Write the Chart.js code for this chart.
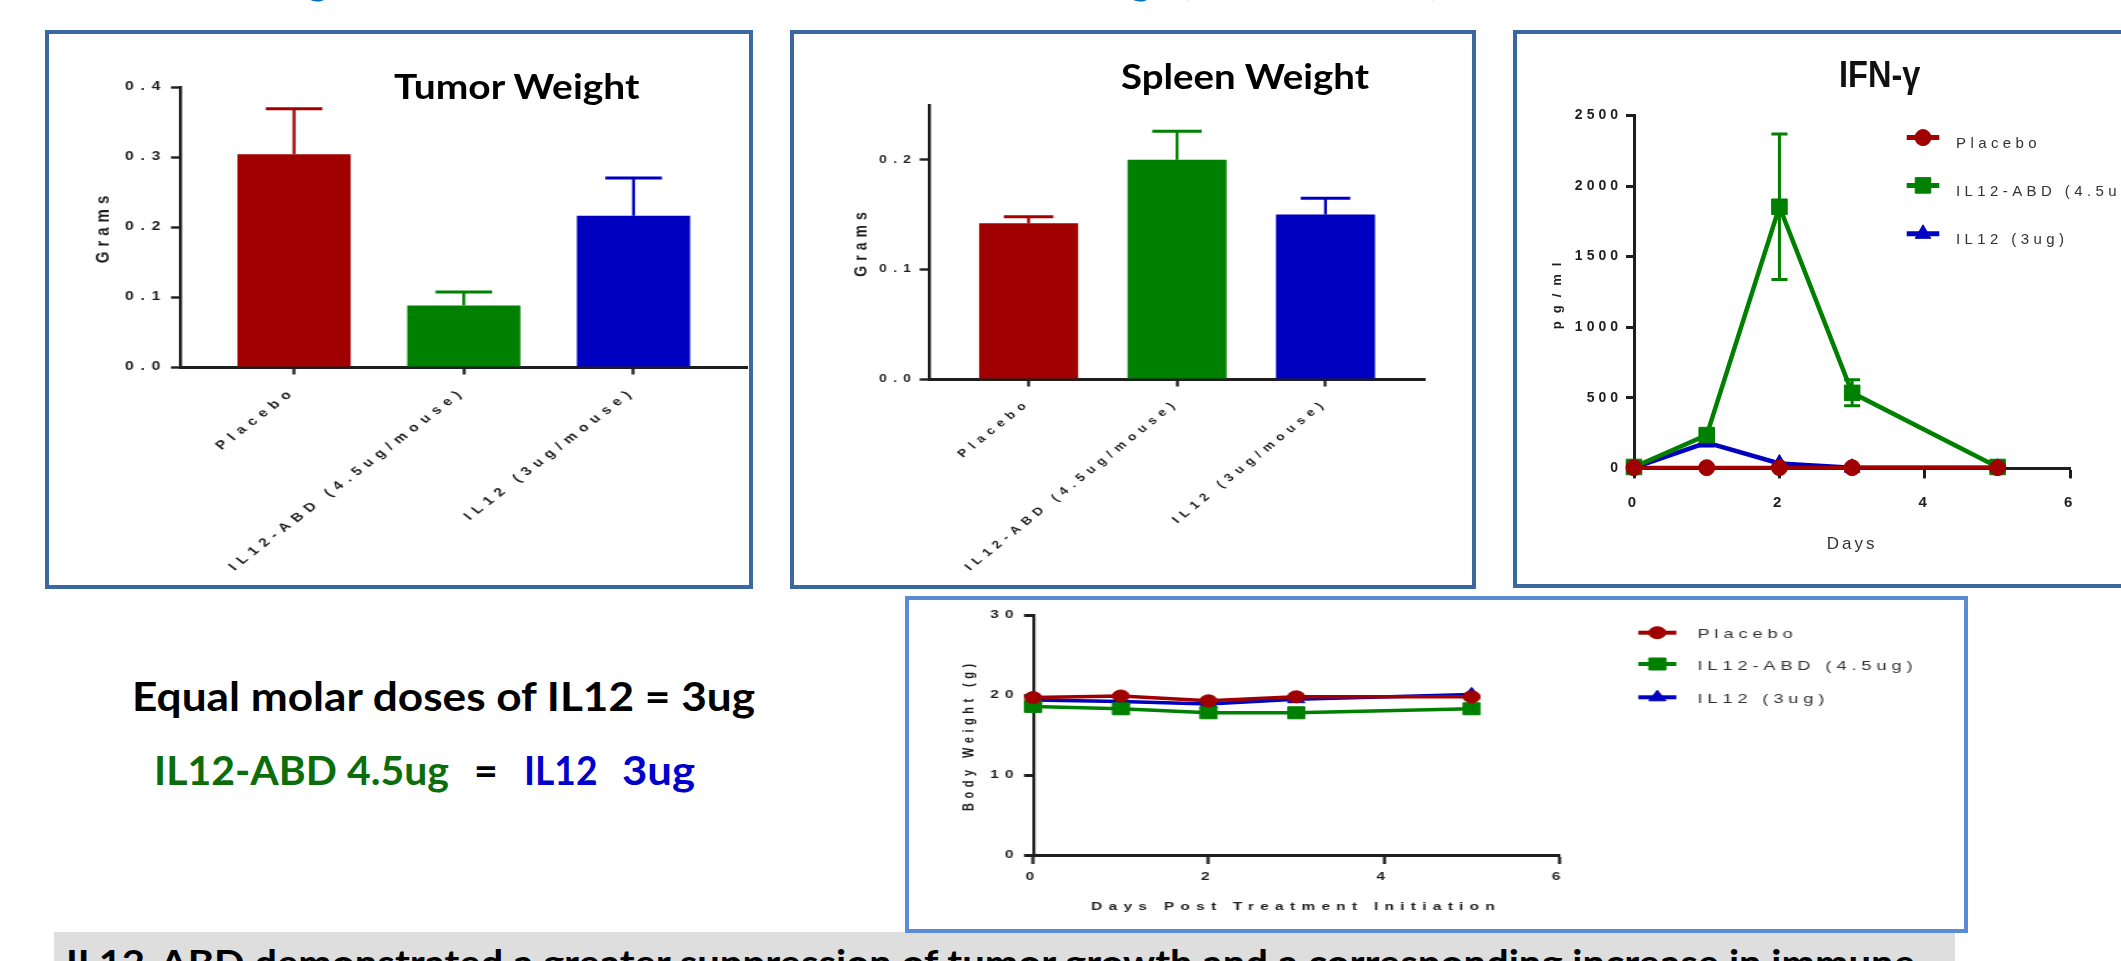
<!DOCTYPE html>
<html lang="en">
<head>
<meta charset="utf-8">
<title>IL12-ABD study panels</title>
<script src="https://cdn.jsdelivr.net/npm/chart.js@4.4.1/dist/chart.umd.min.js"></script>
<style>
  html, body { margin: 0; padding: 0; background: #fff; }
  body { position: relative; width: 2121px; height: 961px; overflow: hidden; }
  .panel { position: absolute; box-sizing: border-box; border: 4px solid #3c68a0; background: #fff; }
  .panel.light { border-color: #5b8bd2; }
  canvas { position: absolute; }
  .t { position: absolute; white-space: pre; line-height: 1; transform-origin: 0 0;
       font-family: Lato, 'Open Sans', sans-serif; font-weight: 700; color: #000; }
</style>
</head>
<body>

<!-- heading line running off the top edge -->
<div class="t" style="left:307px;top:-41px;font-size:40px;color:#0070c0">g</div>
<div class="t" style="left:1130px;top:-41px;font-size:40px;color:#0070c0">g</div>
<div class="t" style="left:1180px;top:-41px;font-size:40px;color:#0070c0">(</div>
<div class="t" style="left:1429px;top:-41px;font-size:40px;color:#0070c0">)</div>

<!-- conclusion banner -->
<div style="position:absolute;left:54px;top:932px;width:1901px;height:40px;background:#dedede"></div>
<div class="t" data-w="1849" style="left:66px;top:944px;font-size:36px">IL12-ABD demonstrated a greater suppression of tumor growth and a corresponding increase in immune</div>

<!-- framed panels -->
<div class="panel" style="left:45px;top:30px;width:708px;height:559px"></div>
<div class="panel" style="left:790px;top:30px;width:686px;height:559px"></div>
<div class="panel" style="left:1513px;top:30px;width:700px;height:558px"></div>
<div class="panel light" style="left:905px;top:596px;width:1063px;height:337px"></div>

<canvas id="tumor" width="538" height="551" style="left:49px;top:34px;width:699.4px;height:551px"></canvas>
<canvas id="spleen" width="542" height="551" style="left:794px;top:34px;width:677.5px;height:551px"></canvas>
<canvas id="ifn" width="604" height="550" style="left:1517px;top:34px;width:604px;height:550px"></canvas>
<canvas id="bw" width="754" height="329" style="left:909px;top:600px;width:1055.6px;height:329px"></canvas>

<!-- panel headings -->
<div class="t" data-w="245.5" style="left:393.5px;top:69.3px;font-size:34px">Tumor Weight</div>
<div class="t" data-w="248" style="left:1120.6px;top:59.4px;font-size:34px">Spleen Weight</div>
<div class="t" data-w="81.3" style="left:1838.6px;top:56.4px;font-size:37px;font-family:'Liberation Sans',Arial,sans-serif;color:#111">IFN-γ</div>

<!-- dose note -->
<div class="t" data-w="623" style="left:132px;top:675.5px;font-size:40px">Equal molar doses of IL12 = 3ug</div>
<div class="t" data-w="295" style="left:154px;top:748.6px;font-size:41px;color:#0b6e0b">IL12-ABD 4.5ug</div>
<div class="t" style="left:474px;top:748.6px;font-size:41px">=</div>
<div class="t" data-w="73.5" style="left:523.5px;top:748.6px;font-size:41px;color:#0000cc">IL12</div>
<div class="t" data-w="73" style="left:621.7px;top:748.6px;font-size:41px;color:#0000cc">3ug</div>

<script>
// ---------- data ----------
const CATEGORIES = ['Placebo', 'IL12-ABD (4.5ug/mouse)', 'IL12 (3ug/mouse)'];
const SERIES = ['Placebo', 'IL12-ABD (4.5ug)', 'IL12 (3ug)'];

const tumorMean = [0.304, 0.088, 0.216];
const tumorSem  = [0.065, 0.019, 0.054];
const tumorTicks = [0, 0.1, 0.2, 0.3, 0.4];

const spleenMean = [0.142, 0.200, 0.150];
const spleenSem  = [0.006, 0.026, 0.015];
const spleenTicks = [0, 0.1, 0.2];

const ifnDays    = [0, 1, 2, 3, 5];
const ifnPlacebo = [5, 5, 5, 5, 5];
const ifnAbd     = [10, 236, 1853, 535, 10];
const ifnAbdSem  = [0, 0, 515, 92, 0];
const ifnIl12    = [5, 183, 35, 5, 5];
const ifnTicks   = [0, 500, 1000, 1500, 2000, 2500];
const dayTicks   = [0, 2, 4, 6];

const bwDays    = [0, 1, 2, 3, 5];
const bwPlacebo = [19.7, 19.9, 19.3, 19.8, 19.8];
const bwAbd     = [18.6, 18.3, 17.8, 17.8, 18.3];
const bwIl12    = [19.4, 19.2, 18.9, 19.5, 20.1];
const bwTicks   = [0, 10, 20, 30];

// ---------- styling ----------
const RED = '#a00000', GREEN = '#008000', BLUE = '#0000c0';
const BAR_COLORS = [RED, GREEN, BLUE];
const INK = '#1e1e1e';
const FAMILY = "'Liberation Sans', Arial, sans-serif";
Chart.defaults.font.family = FAMILY;
Chart.defaults.color = INK;

// letter spacing per canvas, keyed by font pixel size
const SPACING = {
  tumor:  { def: 5, 12: 5.2 },
  spleen: { def: 5 },
  ifn:    { def: 4, 13: 8, 14: 4, 15: 4.4, 17: 3 },
  bw:     { def: 4.5, 13: 3.5 }
};

const letterSpacing = {
  id: 'letterSpacing',
  beforeInit(chart) {
    const ctx = chart.ctx;
    const map = SPACING[chart.canvas.id] || { def: 0 };
    const pick = () => {
      const m = /(\d+(?:\.\d+)?)px/.exec(ctx.font);
      const v = m && map[m[1]] !== undefined ? map[m[1]] : map.def;
      ctx.letterSpacing = v + 'px';
    };
    const fill = ctx.fillText, measure = ctx.measureText;
    ctx.fillText = function (...a) { pick(); return fill.apply(this, a); };
    ctx.measureText = function (...a) { pick(); return measure.apply(this, a); };
  }
};

// SEM whiskers: upward only for bars, both ways when opts.both
const errorBars = {
  id: 'errorBars',
  afterDatasetsDraw(chart, args, o) {
    const ctx = chart.ctx, ys = chart.scales.y;
    chart.data.datasets.forEach((ds, di) => {
      if (!ds.errors) return;
      const meta = chart.getDatasetMeta(di);
      meta.data.forEach((el, i) => {
        const e = ds.errors[i];
        if (!e) return;
        const v = ds.data[i].y;
        const color = Array.isArray(ds.backgroundColor) ? ds.backgroundColor[i] : ds.borderColor;
        const half = o.capHalf != null ? o.capHalf : el.width / 4;
        const top = ys.getPixelForValue(v + e);
        const bottom = o.both ? ys.getPixelForValue(v - e) : el.y;
        ctx.save();
        ctx.strokeStyle = color;
        ctx.lineWidth = o.stem;
        ctx.beginPath(); ctx.moveTo(el.x, bottom); ctx.lineTo(el.x, top); ctx.stroke();
        ctx.lineWidth = o.cap;
        ctx.beginPath();
        ctx.moveTo(el.x - half, top); ctx.lineTo(el.x + half, top);
        if (o.both) { ctx.moveTo(el.x - half, bottom); ctx.lineTo(el.x + half, bottom); }
        ctx.stroke();
        ctx.restore();
      });
    });
  }
};

// legend placed inside the plot, line sample with marker
const insetLegend = {
  id: 'insetLegend',
  afterDraw(chart, args, o) {
    if (!o || !o.rows) return;
    const ctx = chart.ctx;
    chart.data.datasets.forEach((ds, i) => {
      const y = o.rows[i];
      ctx.save();
      ctx.strokeStyle = ds.borderColor;
      ctx.fillStyle = ds.borderColor;
      ctx.lineWidth = o.lineWidth;
      ctx.beginPath(); ctx.moveTo(o.x0, y); ctx.lineTo(o.x1, y); ctx.stroke();
      ctx.lineWidth = 1;
      Chart.helpers.drawPoint(ctx, { pointStyle: ds.pointStyle, radius: ds.pointRadius, rotation: 0, borderWidth: 1 }, (o.x0 + o.x1) / 2, y);
      ctx.font = o.textFont;
      ctx.fillStyle = o.color;
      ctx.textAlign = 'left';
      ctx.textBaseline = 'middle';
      ctx.fillText(ds.label, o.x, y + o.dy);
      ctx.restore();
    });
  }
};

const fixedTicks = list => s => { s.ticks = list.map(v => ({ value: v })); };
const pts = (xs, ys) => xs.map((x, i) => ({ x, y: ys[i] }));

function barChart(id, means, sems, ticks, yMax, L) {
  return new Chart(document.getElementById(id), {
    type: 'bar',
    data: {
      datasets: [{
        data: pts(means.map((_, i) => i), means),
        backgroundColor: BAR_COLORS,
        borderWidth: 0,
        barPercentage: 0.667,
        categoryPercentage: 1,
        errors: sems
      }]
    },
    options: {
      responsive: false, animation: false, devicePixelRatio: 1,
      layout: { padding: { left: 0, right: L.right, top: L.top, bottom: 0 } },
      plugins: { legend: { display: false }, tooltip: { enabled: false },
                 errorBars: { stem: 2.3, cap: 3 } },
      scales: {
        x: {
          type: 'linear', min: -2 / 3, max: 8 / 3, bounds: 'data', offset: false,
          afterBuildTicks: fixedTicks(CATEGORIES.map((_, i) => i)),
          afterFit: s => { s.height = L.xh; },
          border: { display: true, color: INK, width: 3 },
          grid: { drawOnChartArea: false, tickLength: 7.5, tickWidth: 2.3, tickColor: INK, offset: false },
          ticks: { autoSkip: false, minRotation: 45, maxRotation: 45, padding: 10, color: INK,
                   font: { size: L.fs, weight: 'bold' }, callback: v => CATEGORIES[v] }
        },
        y: {
          type: 'linear', min: 0, max: yMax, bounds: 'data',
          afterBuildTicks: fixedTicks(ticks),
          afterFit: s => { s.width = L.yw; },
          border: { display: true, color: INK, width: 2.4 },
          grid: { drawOnChartArea: false, tickLength: L.ytl, tickWidth: 2.4, tickColor: INK },
          ticks: { padding: L.yp, color: INK, font: { size: L.fs, weight: 'bold' }, callback: v => v.toFixed(1) },
          title: { display: true, text: 'Grams', color: INK, font: { size: L.tfs, weight: 'bold' },
                   padding: { top: L.tp, bottom: 0 } }
        }
      }
    },
    plugins: [letterSpacing, errorBars]
  });
}

barChart('tumor', tumorMean, tumorSem, tumorTicks, 0.4,
  { right: 1, top: 53, xh: 218, yw: 101.5, yp: 3, ytl: 7.7, tp: 32.5, fs: 12, tfs: 15 });
barChart('spleen', spleenMean, spleenSem, spleenTicks, 0.25,
  { right: 38, top: 71, xh: 206, yw: 108.4, yp: 2.1, ytl: 8, tp: 45.6, fs: 11, tfs: 14 });

function lineSet(label, xs, ys, color, style, radius, width, extra) {
  return Object.assign({
    label, data: pts(xs, ys), borderColor: color, backgroundColor: color,
    pointBackgroundColor: color, pointBorderColor: color, pointBorderWidth: 1,
    pointStyle: style, pointRadius: radius, borderWidth: width, tension: 0, fill: false, clip: false
  }, extra || {});
}

function lineChart(id, datasets, cfg) {
  return new Chart(document.getElementById(id), {
    type: 'line',
    data: { datasets },
    options: {
      responsive: false, animation: false, devicePixelRatio: 1,
      layout: { padding: { left: 0, right: cfg.right, top: cfg.top, bottom: 0 } },
      plugins: { legend: { display: false }, tooltip: { enabled: false },
                 errorBars: { both: true, stem: 3, cap: 3, capHalf: 8 },
                 insetLegend: cfg.legend },
      scales: {
        x: {
          type: 'linear', min: 0, max: 6, bounds: 'data',
          afterBuildTicks: fixedTicks(dayTicks),
          afterFit: s => { s.height = cfg.xh; },
          border: { display: true, color: INK, width: 3 },
          grid: { drawOnChartArea: false, tickLength: cfg.xtl, tickWidth: cfg.xtw, tickColor: INK },
          ticks: { padding: cfg.xp, color: INK, font: { size: cfg.xfs, weight: 'bold' }, callback: v => String(v) },
          title: { display: true, text: cfg.xTitle, color: cfg.xTitleColor,
                   font: { size: cfg.xTitleSize, weight: cfg.xTitleWeight },
                   padding: { top: 0, bottom: cfg.xTitlePad } }
        },
        y: {
          type: 'linear', min: 0, max: cfg.yMax, bounds: 'data',
          afterBuildTicks: fixedTicks(cfg.yTicks),
          afterFit: s => { s.width = cfg.yw; },
          border: { display: true, color: INK, width: cfg.ybw },
          grid: { drawOnChartArea: false, tickLength: cfg.ytl, tickWidth: 3, tickColor: INK },
          ticks: { padding: cfg.yp, color: INK, font: { size: cfg.yfs, weight: 'bold' }, callback: v => String(v) },
          title: { display: true, text: cfg.yTitle, color: INK, font: { size: cfg.yTitleSize, weight: 'bold' },
                   padding: { top: cfg.yTitlePad, bottom: 0 } }
        }
      }
    },
    plugins: [letterSpacing, errorBars, insetLegend]
  });
}

lineChart('ifn', [
  lineSet(SERIES[0], ifnDays, ifnPlacebo, RED, 'circle', 8, 4),
  lineSet(SERIES[1], ifnDays, ifnAbd, GREEN, 'rect', 11, 4.5, { errors: ifnAbdSem }),
  lineSet(SERIES[2], ifnDays, ifnIl12, BLUE, 'triangle', 9, 4.5)
], {
  right: 50.7, top: 81.4, xh: 115.6, yw: 117, yMax: 2500, yTicks: ifnTicks,
  xtl: 10, xtw: 3, xp: 15.4, xfs: 15, xTitle: 'Days', xTitleSize: 17, xTitleWeight: 'normal',
  xTitleColor: '#333', xTitlePad: 29.8,
  ytl: 8, ybw: 3, yp: 4, yfs: 14, yTitle: 'pg/ml', yTitleSize: 13, yTitlePad: 32.6,
  legend: { rows: [103.6, 151.4, 199.8], x0: 389.7, x1: 422.3, x: 439, dy: 6, lineWidth: 5,
            textFont: "15px 'Liberation Sans', Arial, sans-serif", color: '#333' }
});

lineChart('bw', [
  lineSet(SERIES[0], bwDays, bwPlacebo, RED, 'circle', 6, 3.5),
  lineSet(SERIES[1], bwDays, bwAbd, GREEN, 'rect', 8.5, 3.5),
  lineSet(SERIES[2], bwDays, bwIl12, BLUE, 'triangle', 7, 3.5)
], {
  right: 289.7, top: 15.3, xh: 74, yw: 88.6, yMax: 30, yTicks: bwTicks,
  xtl: 9, xtw: 2.2, xp: 6.4, xfs: 11, xTitle: 'Days Post Treatment Initiation', xTitleSize: 11,
  xTitleWeight: 'bold', xTitleColor: INK, xTitlePad: 15.7,
  ytl: 6.4, ybw: 2.2, yp: 3, yfs: 11, yTitle: 'Body Weight (g)', yTitleSize: 11, yTitlePad: 36.2,
  legend: { rows: [32.7, 64, 97.3], x0: 520.7, x1: 547.9, x: 562.9, dy: 2, lineWidth: 4,
            textFont: "13px 'Liberation Sans', Arial, sans-serif", color: '#333' }
});

// stretch free-standing text to its set width
function fitText() {
  document.querySelectorAll('.t[data-w]').forEach(el => {
    el.style.transform = 'none';
    const w = el.getBoundingClientRect().width;
    if (w > 0) el.style.transform = `scaleX(${el.dataset.w / w})`;
  });
}
fitText();
if (document.fonts && document.fonts.ready) document.fonts.ready.then(fitText);
</script>
</body>
</html>
